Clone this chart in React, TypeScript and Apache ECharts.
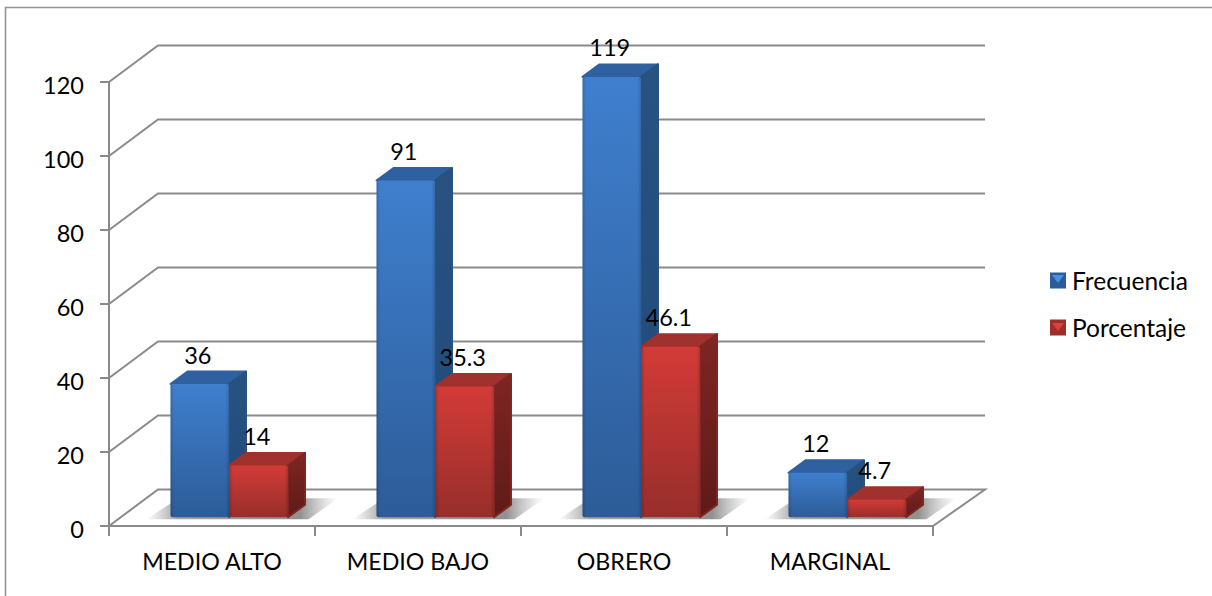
import React, { useEffect, useRef } from "react";
import * as echarts from "echarts";

const categories = ["MEDIO ALTO", "MEDIO BAJO", "OBRERO", "MARGINAL"];
const frecuencia = [36, 91, 119, 12];
const porcentaje = [14, 35.3, 46.1, 4.7];
const yTicks = [0, 20, 40, 60, 80, 100, 120];

const FONT = "Lato";
const GREY = "#8a8a8a";
const LG = echarts.graphic.LinearGradient;

const WALL_DX = 49;
const WALL_DY = -36.5;
const WALL_RIGHT_DX = 52;
const BAR_W = 58.5;
const BAR_SHIFT_X = 17;
const BAR_SHIFT_Y = -8.8;
const DEPTH_X = 17;
const DEPTH_Y = -12.5;

const palette = {
  blue: { frontA: "#3f7fce", frontB: "#2d5c98", top: "#2f609f", sideA: "#28527f", sideB: "#1f4a7c" },
  red: { frontA: "#d33b37", frontB: "#972e2b", top: "#a1312d", sideA: "#7f2522", sideB: "#5e1b19" },
};

function wallItem(params: any, api: any) {
  const v = api.value(1);
  const cs = params.coordSys;
  const y = api.coord([0, v])[1];
  const left = cs.x;
  const right = cs.x + cs.width;
  const points = [
    [left, y],
    [left + WALL_DX, y + WALL_DY],
    [right + WALL_RIGHT_DX, y + WALL_DY],
  ];
  if (v === 0) points.push([right, y]);
  return {
    type: "polyline",
    shape: { points },
    style: { fill: "none", stroke: GREY, lineWidth: 2 },
  };
}

function shadowItem(_params: any, api: any) {
  const c = api.coord([api.value(0), 0]);
  const cx = c[0] + BAR_SHIFT_X;
  const y = c[1] + BAR_SHIFT_Y;
  return {
    type: "polygon",
    shape: {
      points: [
        [cx - BAR_W - 24, y + 2],
        [cx - BAR_W + 8, y - 19],
        [cx + BAR_W + DEPTH_X + 34, y - 19],
        [cx + BAR_W + DEPTH_X + 4, y + 2],
      ],
    },
    style: {
      fill: new LG(0, 0, 1, 0, [
        { offset: 0, color: "rgba(150,150,150,0)" },
        { offset: 0.16, color: "rgba(135,135,135,0.75)" },
        { offset: 0.8, color: "rgba(125,125,125,0.85)" },
        { offset: 1, color: "rgba(170,170,170,0)" },
      ]),
    },
  };
}

function barRenderer(side: number, colors: any) {
  return (_params: any, api: any) => {
    const i = api.value(0);
    const v = api.value(1);
    const topC = api.coord([i, v]);
    const baseC = api.coord([i, 0]);
    const cx = baseC[0] + BAR_SHIFT_X;
    const x0 = side < 0 ? cx - BAR_W : cx + 0.5;
    const x1 = x0 + BAR_W;
    const yB = baseC[1] + BAR_SHIFT_Y;
    const yT = topC[1] + BAR_SHIFT_Y;
    const strokeBase = { lineWidth: 2, lineJoin: "round" };
    return {
      type: "group",
      children: [
        {
          type: "polygon",
          shape: { points: [[x0, yT], [x1, yT], [x1 + DEPTH_X, yT + DEPTH_Y], [x0 + DEPTH_X, yT + DEPTH_Y]] },
          style: { fill: colors.top, stroke: colors.top, ...strokeBase },
        },
        {
          type: "polygon",
          shape: { points: [[x1, yT], [x1 + DEPTH_X, yT + DEPTH_Y], [x1 + DEPTH_X, yB + DEPTH_Y], [x1, yB]] },
          style: {
            fill: new LG(0, 0, 0, 1, [{ offset: 0, color: colors.sideA }, { offset: 1, color: colors.sideB }]),
            stroke: colors.sideA,
            ...strokeBase,
          },
        },
        {
          type: "rect",
          shape: { x: x0, y: yT, width: BAR_W, height: yB - yT, r: 2 },
          style: {
            fill: new LG(0, 0, 0, 1, [{ offset: 0, color: colors.frontA }, { offset: 1, color: colors.frontB }]),
          },
        },
        {
          type: "rect",
          shape: { x: x0, y: yT, width: BAR_W, height: yB - yT, r: 2 },
          style: {
            fill: new LG(0, 0, 1, 0, [
              { offset: 0, color: "rgba(0,0,0,0.16)" },
              { offset: 0.06, color: "rgba(0,0,0,0)" },
              { offset: 0.94, color: "rgba(0,0,0,0)" },
              { offset: 1, color: "rgba(0,0,0,0.16)" },
            ]),
          },
        },
        {
          type: "text",
          x: (x0 + x1) / 2 - 2,
          y: yT - 29.5,
          style: {
            text: String(v),
            fill: "#000",
            font: `23.5px ${FONT}`,
            textAlign: "center",
            textVerticalAlign: "middle",
          },
        },
      ],
    };
  };
}

function legendTriangle(x: number, y: number, fill: string) {
  return {
    type: "polygon",
    z: 100,
    shape: { points: [[x + 2, y + 3], [x + 14, y + 3], [x + 8, y + 11]] },
    style: { fill },
  };
}

export default function App() {
  const ref = useRef<HTMLDivElement>(null);
  useEffect(() => {
    document.body.style.margin = "0";
    const chart = echarts.init(ref.current!, null, { renderer: "svg" });
    chart.setOption({
      animation: false,
      backgroundColor: "#fff",
      grid: { left: 109, top: 82, width: 824, height: 444 },
      xAxis: {
        type: "category",
        data: categories,
        axisLine: { lineStyle: { color: GREY, width: 2 } },
        axisTick: { show: true, length: 10, alignWithLabel: false, lineStyle: { color: GREY, width: 2 } },
        axisLabel: { color: "#000", fontFamily: FONT, fontSize: 23.2, margin: 23 },
      },
      yAxis: {
        type: "value",
        min: 0,
        max: 120,
        interval: 20,
        axisLine: { show: true, lineStyle: { color: GREY, width: 2 } },
        axisTick: { show: true, length: 9, lineStyle: { color: GREY, width: 2 } },
        axisLabel: {
          margin: 25,
          formatter: "{n|{value}}",
          rich: { n: { color: "#000", fontFamily: FONT, fontSize: 23.5, padding: [6, 0, 0, 0] } },
        },
        splitLine: { show: false },
      },
      legend: {
        left: 1050,
        top: 268,
        padding: 0,
        orient: "vertical",
        itemWidth: 16,
        itemHeight: 16,
        itemGap: 22,
        selectedMode: false,
        textStyle: { color: "#000", fontFamily: FONT, fontSize: 24.5, padding: [0, 0, 0, 1] },
        data: [
          { name: "Frecuencia", icon: "rect", itemStyle: { color: "#2c5c98" } },
          { name: "Porcentaje", icon: "rect", itemStyle: { color: "#9c2f2c" } },
        ],
      },
      graphic: [
        {
          type: "polyline",
          z: 100,
          shape: { points: [[5.5, 596], [5.5, 7.5], [1212, 7.5]] },
          style: { fill: "none", stroke: "#949494", lineWidth: 1.6 },
        },
        legendTriangle(1050, 272, "#4a90e0"),
        legendTriangle(1050, 320, "#d8423e"),
      ],
      series: [
        {
          name: "walls",
          type: "custom",
          z: 1,
          clip: false,
          silent: true,
          renderItem: wallItem,
          data: yTicks.map((v) => [0, v]),
        },
        {
          name: "sombra",
          type: "custom",
          z: 2,
          clip: false,
          silent: true,
          renderItem: shadowItem,
          data: categories.map((_, i) => [i, 0]),
        },
        {
          name: "Frecuencia",
          type: "custom",
          z: 3,
          clip: false,
          renderItem: barRenderer(-1, palette.blue),
          itemStyle: { color: "#2c5c98" },
          data: frecuencia.map((v, i) => [i, v]),
        },
        {
          name: "Porcentaje",
          type: "custom",
          z: 4,
          clip: false,
          renderItem: barRenderer(1, palette.red),
          itemStyle: { color: "#9c2f2c" },
          data: porcentaje.map((v, i) => [i, v]),
        },
      ],
    });
    return () => chart.dispose();
  }, []);
  return <div ref={ref} style={{ width: 1212, height: 596 }} />;
}
